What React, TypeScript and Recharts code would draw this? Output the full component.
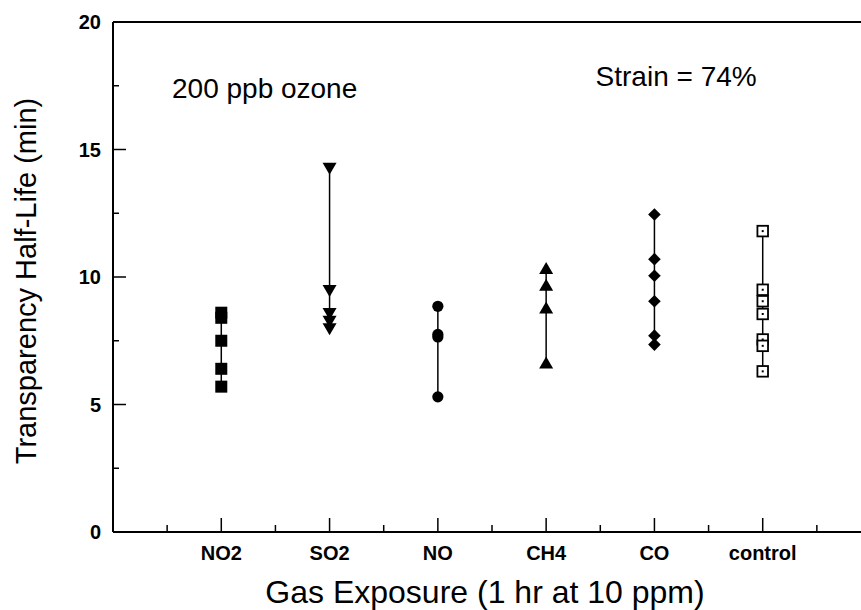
import { ScatterChart, Scatter, XAxis, YAxis, ReferenceDot } from "recharts"

const categories = ["NO2", "SO2", "NO", "CH4", "CO", "control"]
const no2 = [8.6, 8.4, 7.5, 6.4, 5.7]
const so2 = [14.25, 9.45, 8.55, 8.25, 7.95]
const no = [8.85, 7.75, 7.65, 5.3]
const ch4 = [10.35, 9.7, 8.8, 6.65]
const co = [12.45, 10.7, 10.05, 9.05, 7.7, 7.35]
const control = [11.8, 9.5, 9.05, 8.55, 7.55, 7.3, 6.3]
const xTicks = [0.5, 1, 1.5, 2, 2.5, 3, 3.5, 4, 4.5, 5, 5.5, 6, 6.5]
const yTicks = [0, 2.5, 5, 7.5, 10, 12.5, 15, 17.5, 20]

const FONT = "'Liberation Sans', Arial, Helvetica, sans-serif"

const pts = (x: number, vals: number[]) => vals.map(y => ({ x, y }))

const FilledSquare = ({ cx, cy }: any) => <rect x={cx - 6} y={cy - 6} width={12} height={12} fill="#000" />
const DownTri = ({ cx, cy }: any) => <polygon points={`${cx - 7},${cy - 6} ${cx + 7},${cy - 6} ${cx},${cy + 6}`} fill="#000" />
const UpTri = ({ cx, cy }: any) => <polygon points={`${cx - 7},${cy + 6} ${cx + 7},${cy + 6} ${cx},${cy - 6}`} fill="#000" />
const Circ = ({ cx, cy }: any) => <circle cx={cx} cy={cy} r={5.6} fill="#000" />
const Diamond = ({ cx, cy }: any) => <polygon points={`${cx},${cy - 6.3} ${cx + 6.3},${cy} ${cx},${cy + 6.3} ${cx - 6.3},${cy}`} fill="#000" />
const OpenSquare = ({ cx, cy }: any) => (
  <g>
    <rect x={cx - 5.3} y={cy - 5.3} width={10.6} height={10.6} fill="#fff" stroke="#000" strokeWidth={1.8} />
    <rect x={cx - 1} y={cy - 1} width={2} height={2} fill="#000" />
  </g>
)

const BottomTick = ({ x, y, payload }: any) => {
  const v = payload.value
  const major = Number.isInteger(v)
  const label = major ? categories[v - 1] : null
  return (
    <g>
      <line x1={x} x2={x} y1={y} y2={y - (major ? 14 : 7)} stroke="#000" strokeWidth={1.5} />
      {label && <text x={x} y={y + 28} textAnchor="middle" fontFamily={FONT} fontWeight="bold" fontSize={20} fill="#000">{label}</text>}
    </g>
  )
}
const TopTick = ({ x, y, payload }: any) => {
  const major = Number.isInteger(payload.value)
  return <line x1={x} x2={x} y1={y} y2={y + (major ? 14 : 7)} stroke="#000" strokeWidth={1.5} />
}
const LeftTick = ({ x, y, payload }: any) => {
  const v = payload.value
  const major = v % 5 === 0
  return (
    <g>
      <line x1={x} x2={x + (major ? 13 : 6)} y1={y} y2={y} stroke="#000" strokeWidth={1.5} />
      {major && <text x={x - 12} y={y + 7} textAnchor="end" fontFamily={FONT} fontWeight="bold" fontSize={20} fill="#000">{v}</text>}
    </g>
  )
}
const RightTick = ({ x, y, payload }: any) => {
  const major = payload.value % 5 === 0
  return <line x1={x} x2={x - (major ? 13 : 6)} y1={y} y2={y} stroke="#000" strokeWidth={1.5} />
}

const Note = (text: string) => (props: any) => (
  <text x={props.viewBox.x} y={props.viewBox.y} fontFamily={FONT} fontSize={28} fill="#000">{text}</text>
)

export default function App() {
  const axisLine = { stroke: "#000", strokeWidth: 2 }
  return (
    <div style={{ position: "absolute", left: 0, top: 0, width: 861, height: 610, overflow: "hidden", background: "#fff" }}>
      <ScatterChart width={880} height={610} margin={{ top: 0, right: 0, bottom: 0, left: 0 }}>
        <XAxis xAxisId="b" type="number" dataKey="x" domain={[0, 7]} ticks={xTicks} interval={0} orientation="bottom" height={78}
          axisLine={axisLine} tickLine={false} tickSize={0} tickMargin={0} tick={<BottomTick />}
          label={{ content: () => <text x={485} y={603} textAnchor="middle" fontFamily={FONT} fontSize={32} fill="#000">Gas Exposure (1 hr at 10 ppm)</text> }} />
        <XAxis xAxisId="t" type="number" domain={[0, 7]} ticks={xTicks} interval={0} orientation="top" height={22}
          axisLine={axisLine} tickLine={false} tickSize={0} tickMargin={0} tick={<TopTick />} />
        <YAxis yAxisId="l" type="number" dataKey="y" domain={[0, 20]} ticks={yTicks} interval={0} orientation="left" width={113}
          axisLine={axisLine} tickLine={false} tickSize={0} tickMargin={0} tick={<LeftTick />}
          label={{ content: () => <text x={36} y={281} transform="rotate(-90, 36, 281)" textAnchor="middle" fontFamily={FONT} fontSize={29} fill="#000">Transparency Half-Life (min)</text> }} />
        <YAxis yAxisId="r" type="number" domain={[0, 20]} ticks={yTicks} interval={0} orientation="right" width={9}
          axisLine={axisLine} tickLine={false} tickSize={0} tickMargin={0} tick={<RightTick />} />
        <Scatter xAxisId="b" yAxisId="l" data={pts(1, no2)} line={{ stroke: "#000", strokeWidth: 1.5 }} shape={<FilledSquare />} isAnimationActive={false} />
        <Scatter xAxisId="b" yAxisId="l" data={pts(2, so2)} line={{ stroke: "#000", strokeWidth: 1.5 }} shape={<DownTri />} isAnimationActive={false} />
        <Scatter xAxisId="b" yAxisId="l" data={pts(3, no)} line={{ stroke: "#000", strokeWidth: 1.5 }} shape={<Circ />} isAnimationActive={false} />
        <Scatter xAxisId="b" yAxisId="l" data={pts(4, ch4)} line={{ stroke: "#000", strokeWidth: 1.5 }} shape={<UpTri />} isAnimationActive={false} />
        <Scatter xAxisId="b" yAxisId="l" data={pts(5, co)} line={{ stroke: "#000", strokeWidth: 1.5 }} shape={<Diamond />} isAnimationActive={false} />
        <Scatter xAxisId="b" yAxisId="l" data={pts(6, control)} line={{ stroke: "#000", strokeWidth: 1.5 }} shape={<OpenSquare />} isAnimationActive={false} />
        <ReferenceDot xAxisId="b" yAxisId="l" x={0.554} y={16.97} r={1} fill="none" stroke="none" label={{ content: Note("200 ppb ozone") }} />
        <ReferenceDot xAxisId="b" yAxisId="l" x={4.466} y={17.46} r={1} fill="none" stroke="none" label={{ content: Note("Strain = 74%") }} />
      </ScatterChart>
    </div>
  )
}
